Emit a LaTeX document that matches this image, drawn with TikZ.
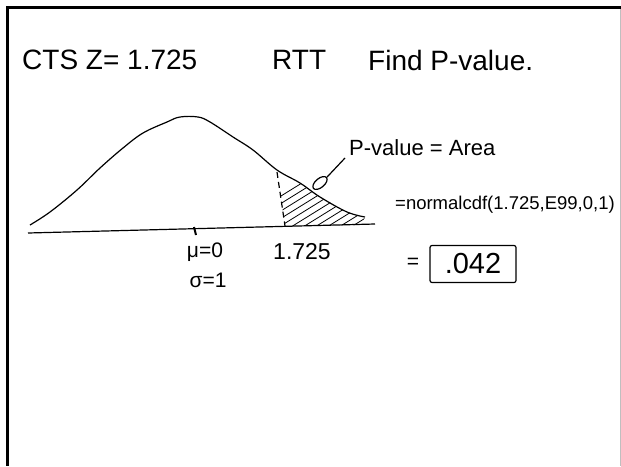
\documentclass[tikz,border=0pt]{standalone}
\usepackage{fontspec}
\setmainfont{Liberation Sans}
\usetikzlibrary{shapes.geometric}
\begin{document}
\begin{tikzpicture}[x=1pt,y=-1pt,
  big/.style={font=\fontsize{28}{30}\selectfont,anchor=west,inner sep=0pt},
  mid/.style={font=\fontsize{21}{24}\selectfont,inner sep=0pt},
  small/.style={font=\fontsize{18.5}{20}\selectfont,anchor=west,inner sep=0pt},
  pen/.style={line width=1.2pt}]
  \useasboundingbox (0,0) rectangle (621,466);
  % Board frame
  \fill[black] (6,6) rectangle (621,9);
  \fill[black] (6,6) rectangle (9,466);
  \draw[black!25] (620,9) -- (620,466);
  % Heading
  \node[big] (cts) at (22,60) {CTS Z= 1.725};
  \node[big] (rtt) at (272,60) {RTT};
  \node[big] (find) at (368,60) {Find P-value.};
  % Tail area
  \begin{scope}
    \clip (277,171) -- (300,183) -- (320,197) -- (347,212) -- (365,217)
      -- (362,225) -- (285,226) -- cycle;
    \foreach \i in {0,...,12}
      \draw[line width=0.8pt] (210+\i*12,240) -- ++(100,-62);
  \end{scope}
  \draw[pen,dash pattern=on 6pt off 4pt] (277,172) -- (285,226);
  % Bell curve
  \draw[pen] plot[smooth,tension=0.6] coordinates {(30,225) (50,212) (77,190)
    (100,168) (123,148) (143,133) (167,122) (180,117) (198,117) (210,122) (233,137)
    (253,150) (277,170) (300,183) (320,197) (347,212) (365,217)};
  % Axis and tick
  \draw[pen] (28,233) -- (375,224);
  \draw[line width=2pt] (194,227) -- (196,235);
  \node[mid] (mu) at (205,252) {μ=0};
  \node[mid] (sigma) at (208,280) {σ=1};
  \node[mid,font=\fontsize{23}{24}\selectfont] (crit) at (302,252) {1.725};
  % P-value label
  \node[mid,anchor=west,font=\fontsize{22}{24}\selectfont] (pval) at (349,148) {P-value = Area};
  \node[draw,pen,ellipse,minimum width=17pt,minimum height=9pt,inner sep=0pt,
    rotate=40] (dot) at (320,183) {};
  \draw[pen] (dot.east) -- (345,158);
  % Calculation
  \node[small] (calc) at (395,205) {=normalcdf(1.725,E99,0,1)};
  \node[mid] (eq) at (413,263) {=};
  \node[draw,pen,rounded corners=2pt,font=\fontsize{29}{30}\selectfont,
    minimum width=86pt,minimum height=37pt,inner sep=0pt] (ans) at (473,264) {.042};
\end{tikzpicture}
\end{document}
